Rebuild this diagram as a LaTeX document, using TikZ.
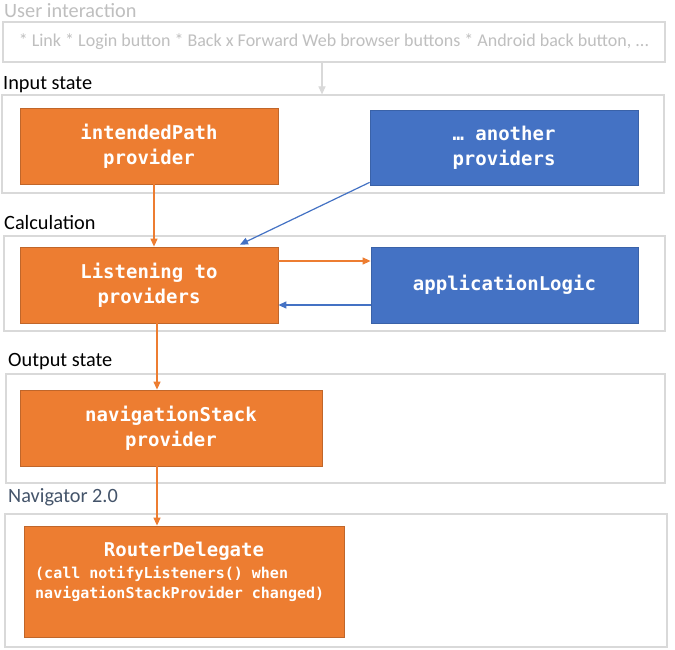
\documentclass[tikz,border=0pt]{standalone}
\usepackage{fontspec}
\setmainfont{Carlito}
\newfontfamily\monob{DejaVu Sans Mono}[BoldFont={DejaVu Sans Mono Bold}]
\usetikzlibrary{arrows.meta,calc}
\definecolor{org}{HTML}{ED7D31}
\definecolor{orgb}{HTML}{C0662A}
\definecolor{blu}{HTML}{4472C4}
\definecolor{blub}{HTML}{3A62A8}
\definecolor{frame}{HTML}{D9D9D9}
\definecolor{ltxt}{HTML}{BFBFBF}
\definecolor{slate}{HTML}{44546A}
\begin{document}
\begin{tikzpicture}[x=1pt,y=-1pt,
  group/.style={draw=frame,line width=1.2pt,fill=white,inner sep=0pt},
  gtitle/.style={anchor=west,inner sep=0pt,font=\fontsize{20.3}{22}\selectfont},
  obox/.style={draw=orgb,fill=org,line width=0.8pt,inner sep=0pt,text=white,font=\monob\bfseries\fontsize{19}{25}\selectfont,align=center},
  bbox/.style={draw=blub,fill=blu,line width=0.8pt,inner sep=0pt,text=white,font=\monob\bfseries\fontsize{19}{25}\selectfont,align=center},
  oarr/.style={draw=org,line width=1.2pt,-{Triangle[length=8pt,width=7pt]}},
  barr/.style={draw=blu,line width=1.2pt,-{Triangle[length=8pt,width=7pt]}},
  garr/.style={draw=frame,line width=1.2pt,-{Triangle[length=8pt,width=7pt]}}
]
\useasboundingbox[fill=white] (0,0) rectangle (675,650);
% User interaction
\node[gtitle,text=ltxt] (t0) at (4,11) {User interaction};
\node[group,minimum width=662pt,minimum height=40pt,text=ltxt,font=\fontsize{18}{20}\selectfont] (ui) at (334,42) {* Link * Login button * Back x Forward Web browser buttons * Android back button, ...};
% Input state
\node[gtitle] (t1) at (3,85) {Input state};
\node[group,minimum width=662pt,minimum height=98pt] (inp) at (333,144) {};
\node[obox,minimum width=258pt,minimum height=76pt] (ip) at (149,146) {intendedPath\\provider};
\node[bbox,minimum width=268pt,minimum height=75pt] (ap) at (504,147.5) {… another\\providers};
% Calculation
\node[gtitle] (t2) at (4,223) {Calculation};
\node[group,minimum width=661pt,minimum height=95pt] (calc) at (334.5,283.5) {};
\node[obox,minimum width=258pt,minimum height=76pt] (lp) at (149,285) {Listening to\\providers};
\node[bbox,minimum width=267pt,minimum height=76pt] (al) at (504.5,285) {applicationLogic};
% Output state
\node[gtitle] (t3) at (8,362) {Output state};
\node[group,minimum width=659pt,minimum height=109pt] (outp) at (335.5,428.5) {};
\node[obox,minimum width=302pt,minimum height=76pt] (ns) at (171,428) {navigationStack\\provider};
% Navigator 2.0
\node[gtitle,text=slate] (t4) at (8,497) {Navigator 2.0};
\node[group,minimum width=662pt,minimum height=133pt] (nav) at (336,580.5) {};
\node[draw=orgb,fill=org,line width=0.8pt,minimum width=320pt,minimum height=111pt,inner sep=0pt] (rd) at (184,581.5) {};
\node[text=white,font=\monob\bfseries\fontsize{19}{22}\selectfont,inner sep=0pt] (rdt) at (184,551) {RouterDelegate};
\node[text=white,font=\monob\bfseries\fontsize{15}{20}\selectfont,inner sep=0pt,anchor=north west,align=left] (rds) at (35,566) {(call notifyListeners() when\\navigationStackProvider changed)};
% connectors
\draw[garr] ([xshift=-12pt]ui.south) -- ([xshift=-12pt]ui.south |- inp.north);
\draw[oarr] ([xshift=5pt]ip.south) -- ([xshift=5pt]lp.north);
\draw[barr] (ap.south west) ++(0,-3) -- ([xshift=91pt,yshift=2pt]lp.north);
\draw[oarr] ([yshift=24pt]lp.east) -- ([yshift=24pt]al.west);
\draw[barr] ([yshift=-20pt]al.west) -- ([yshift=-20pt]lp.east);
\draw[oarr] ([xshift=8pt]lp.south) -- ([xshift=8pt]lp.south |- ns.north);
\draw[oarr] ([xshift=-14pt]ns.south) -- ([xshift=-14pt]ns.south |- rd.north);
\end{tikzpicture}
\end{document}
